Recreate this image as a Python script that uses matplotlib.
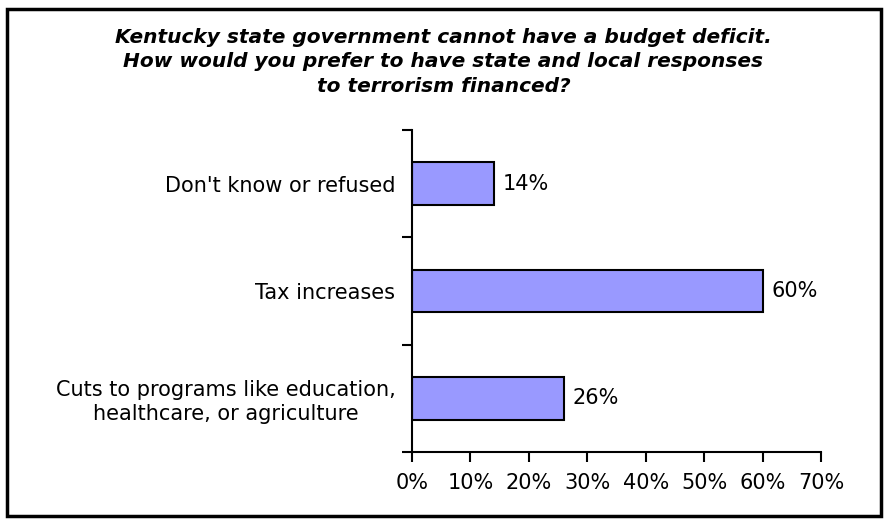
import numpy as np
import matplotlib.pyplot as plt
from matplotlib.patches import Rectangle
from matplotlib.ticker import FixedLocator, PercentFormatter

plt.rcParams['font.family'] = ['DejaVu Sans']

# respuestas (de abajo hacia arriba)
categorias = ["Cuts to programs like education,\nhealthcare, or agriculture",
              "Tax increases",
              "Don't know or refused"]
porcentajes = [26, 60, 14]
titulo = ("Kentucky state government cannot have a budget deficit.\n"
          "How would you prefer to have state and local responses\n"
          "to terrorism financed?")

fig = plt.figure(figsize=(8.87, 5.2), dpi=100)
ax = fig.add_axes([0.4645, 0.1308, 0.4611, 0.6192])

y = np.arange(len(categorias))
barras = ax.barh(y, porcentajes, height=0.4, color="#9999FF",
                 edgecolor="black", linewidth=1.5)

for yi, v in zip(y, porcentajes):
    ax.text(v + 1.5, yi, f"{v}%", va="center", ha="left", fontsize=15)

ax.set_xlim(0, 70)
ax.set_ylim(-0.5, len(categorias) - 0.5)
ax.set_xticks(np.arange(0, 71, 10))
ax.xaxis.set_major_formatter(PercentFormatter(decimals=0))

# ticks entre categorias, etiquetas en el centro
ax.yaxis.set_major_locator(FixedLocator(np.arange(-0.5, len(categorias), 1.0)))
ax.yaxis.set_minor_locator(FixedLocator(y))
ax.set_yticklabels([], minor=False)
ax.set_yticklabels(categorias, minor=True, ha="right", multialignment="center",
                   linespacing=1.25)
ax.tick_params(axis="y", which="minor", length=0, pad=12, labelsize=15)
ax.tick_params(axis="y", which="major", length=7, width=1.5, direction="out")
ax.tick_params(axis="x", length=7, width=1.5, direction="out", labelsize=15, pad=8)

for lado in ["top", "right"]:
    ax.spines[lado].set_visible(False)
for lado in ["left", "bottom"]:
    ax.spines[lado].set_linewidth(1.5)

fig.text(0.5, 0.946, titulo, ha="center", va="top", fontsize=14.5,
         fontweight="bold", fontstyle="italic", linespacing=1.35)

# marco exterior
fig.patches.append(Rectangle((0.008, 0.008), 0.985, 0.975, transform=fig.transFigure,
                             fill=False, edgecolor="black", linewidth=2.5))

fig.savefig("out.png", dpi=100)
